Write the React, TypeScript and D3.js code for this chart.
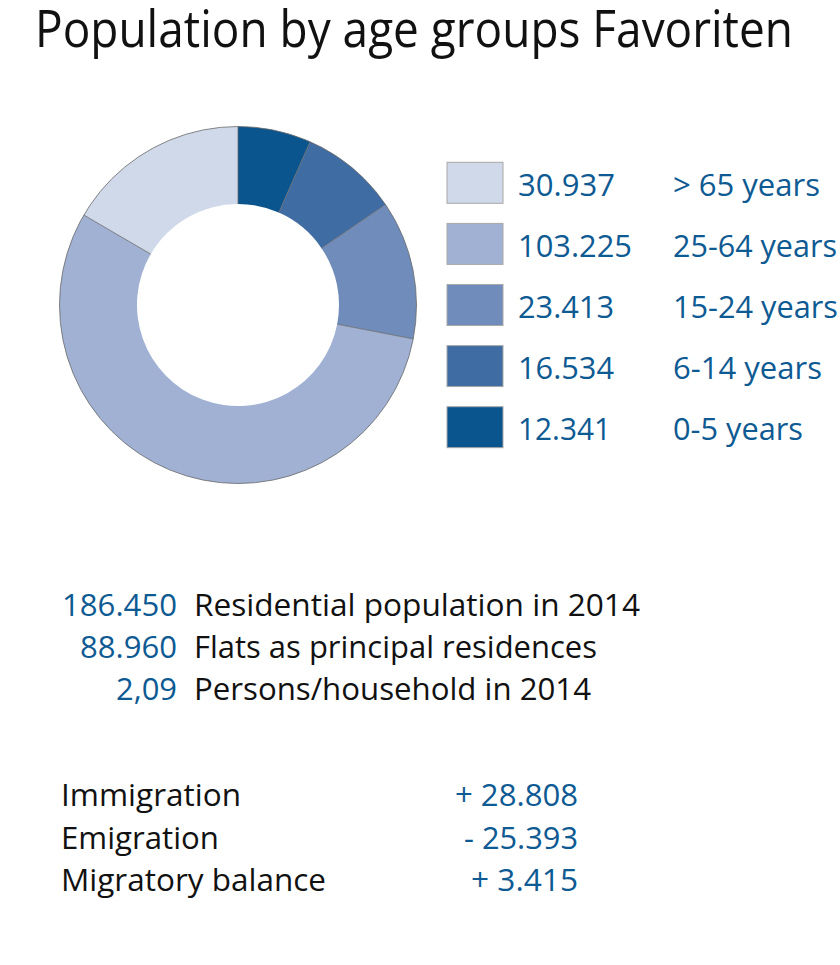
import React from 'react';
import * as d3 from 'd3';

// ---- data ----
const ageGroups = ['0-5 years', '6-14 years', '15-24 years', '25-64 years', '> 65 years'];
const ageValues = [12341, 16534, 23413, 103225, 30937];
const ageValueLabels = ['12.341', '16.534', '23.413', '103.225', '30.937'];
const ageColors = ['#0b558e', '#3f6ca2', '#6f8cba', '#a0b1d3', '#d0d9ea'];
const legendOrder = [4, 3, 2, 1, 0];

const statValues = ['186.450', '88.960', '2,09'];
const statLabels = ['Residential population in 2014', 'Flats as principal residences', 'Persons/household in 2014'];

const migrationLabels = ['Immigration', 'Emigration', 'Migratory balance'];
const migrationValues = ['+ 28.808', '- 25.393', '+ 3.415'];

const title = 'Population by age groups Favoriten';

// ---- layout (target text widths) ----
const legendValueWidths = [97, 114, 96, 96, 93];
const legendLabelWidths = [147, 164, 165, 149, 130];
const statValueWidths = [115, 97, 61];
const statLabelWidths = [446, 403, 397];
const migLabelWidths = [180, 158, 265];
const migValueWidths = [123, 114, 107];

const FONT = "'Open Sans', 'Noto Sans', sans-serif";
const BLUE = '#0e5a93';
const BLACK = '#111111';

function T({ x, y, w, size, fill, children }: any) {
  return (
    <text x={x} y={y} fontSize={size} fill={fill} fontFamily={FONT}
      textLength={w} lengthAdjust="spacingAndGlyphs">{children}</text>
  );
}

export default function App() {
  const W = 840, H = 965;
  const cx = 238, cy = 305, R = 178.5, r = 101;
  const pie = d3.pie<number>().sort(null).value(d => d);
  const arcs = pie(ageValues);
  const arcGen = d3.arc<d3.PieArcDatum<number>>().innerRadius(r).outerRadius(R);

  const legendTop = d3.scaleLinear().domain([0, 4]).range([162.3, 406.7]);
  const statY = d3.scaleLinear().domain([0, 2]).range([616, 700]);
  const migY = d3.scaleLinear().domain([0, 2]).range([806, 891]);

  return (
    <svg width={W} height={H} style={{ position: 'absolute', left: 0, top: 0, background: '#ffffff' }}>
      <T x={35} y={47} w={758} size={52} fill={BLACK}>{title}</T>

      <g transform={`translate(${cx},${cy})`}>
        {arcs.map((a, i) => (
          <path key={i} d={arcGen(a) || ''} fill={ageColors[i]} />
        ))}
        {arcs.map((a, i) => {
          const ang = a.startAngle;
          return (
            <line key={'l' + i}
              x1={Math.sin(ang) * r} y1={-Math.cos(ang) * r}
              x2={Math.sin(ang) * R} y2={-Math.cos(ang) * R}
              stroke="#6a6a6a" strokeWidth={0.8} />
          );
        })}
        <circle r={R} fill="none" stroke="#6a6a6a" strokeWidth={0.8} />
      </g>

      {legendOrder.map((k, i) => {
        const top = legendTop(i);
        return (
          <g key={'lg' + i}>
            <rect x={447} y={top} width={56} height={41} fill={ageColors[k]} stroke="#a8a8a8" strokeWidth={1} />
            <T x={518} y={top + 33.5} w={legendValueWidths[i]} size={31} fill={BLUE}>{ageValueLabels[k]}</T>
            <T x={673} y={top + 33.5} w={legendLabelWidths[i]} size={31} fill={BLUE}>{ageGroups[k]}</T>
          </g>
        );
      })}

      {statValues.map((v, i) => (
        <g key={'s' + i}>
          <T x={177 - statValueWidths[i]} y={statY(i)} w={statValueWidths[i]} size={31} fill={BLUE}>{v}</T>
          <T x={194} y={statY(i)} w={statLabelWidths[i]} size={31} fill={BLACK}>{statLabels[i]}</T>
        </g>
      ))}

      {migrationLabels.map((l, i) => (
        <g key={'m' + i}>
          <T x={61} y={migY(i)} w={migLabelWidths[i]} size={31} fill={BLACK}>{l}</T>
          <T x={578 - migValueWidths[i]} y={migY(i)} w={migValueWidths[i]} size={31} fill={BLUE}>{migrationValues[i]}</T>
        </g>
      ))}
    </svg>
  );
}
